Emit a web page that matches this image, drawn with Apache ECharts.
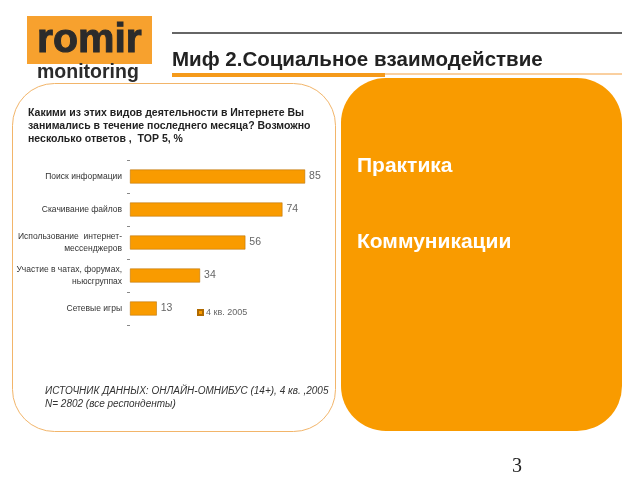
<!DOCTYPE html>
<html>
<head>
<meta charset="utf-8">
<script src="https://cdn.jsdelivr.net/npm/echarts@6/dist/echarts.min.js"></script>
<style>html,body{margin:0;padding:0;background:#fff}#c{width:640px;height:480px}</style>
</head>
<body>
<div id="c"></div>
<script>
var categories = ['Поиск информации', 'Скачивание файлов', 'Использование  интернет-\nмессенджеров', 'Участие в чатах, форумах,\nньюсгруппах', 'Сетевые игры'];
var values = [85, 74, 56, 34, 13];
var seriesName = '4 кв. 2005';
var titleText = 'Миф 2.Социальное взаимодействие';
var questionLines = ['Какими из этих видов деятельности в Интернете Вы', 'занимались в течение последнего месяца? Возможно', 'несколько ответов ,  TOP 5, %'];
var sourceLines = ['ИСТОЧНИК ДАННЫХ: ОНЛАЙН-ОМНИБУС (14+), 4 кв. ,2005', 'N= 2802 (все респонденты)'];
var orange = '#F99B00';
var font = 'Liberation Sans, Arial, sans-serif';

var chart = echarts.init(document.getElementById('c'), null, {renderer: 'canvas'});
var graphics = [
  // logo
  {type: 'rect', shape: {x: 27, y: 16, width: 125, height: 48}, style: {fill: '#F7A12E'}, z: 1},
  {type: 'text', style: {x: 37, y: 41, text: 'romir', font: 'bold 41px ' + font, fill: '#2b2b2b', textVerticalAlign: 'middle', stroke: '#2b2b2b', lineWidth: 1}, z: 2},
  {type: 'text', style: {x: 37, y: 73, text: 'monitoring', font: 'bold 19.5px ' + font, fill: '#2b2b2b', textVerticalAlign: 'middle'}, z: 2},
  // title lines
  {type: 'line', shape: {x1: 172, y1: 33, x2: 622, y2: 33}, style: {stroke: '#333', lineWidth: 1.5}, z: 1},
  {type: 'text', style: {x: 172, y: 60, text: titleText, font: 'bold 20.5px ' + font, fill: '#222', textVerticalAlign: 'middle'}, z: 2},
  {type: 'line', shape: {x1: 172, y1: 74, x2: 622, y2: 74}, style: {stroke: '#F5A040', lineWidth: 1}, z: 1},
  {type: 'rect', shape: {x: 172, y: 73, width: 213, height: 4}, style: {fill: '#F59A1A'}, z: 1},
  // left box
  {type: 'rect', shape: {x: 12.5, y: 83.5, width: 323, height: 348, r: 42}, style: {fill: 'none', stroke: '#F2B56A', lineWidth: 1}, z: 1},
  // right box
  {type: 'rect', shape: {x: 341, y: 78, width: 281, height: 353, r: 45}, style: {fill: orange}, z: 1},
  {type: 'text', style: {x: 357, y: 166, text: 'Практика', font: 'bold 21px ' + font, fill: '#fff', textVerticalAlign: 'middle'}, z: 2},
  {type: 'text', style: {x: 357, y: 242, text: 'Коммуникации', font: 'bold 21px ' + font, fill: '#fff', textVerticalAlign: 'middle'}, z: 2},
  // page number
  {type: 'text', style: {x: 512, y: 467, text: '3', font: '20px Liberation Serif, serif', fill: '#222', textVerticalAlign: 'middle'}, z: 2}
];
questionLines.forEach(function (t, i) {
  graphics.push({type: 'text', style: {x: 28, y: 113 + i * 13, text: t, font: 'bold 10.5px ' + font, fill: '#222', textVerticalAlign: 'middle'}, z: 2});
});
sourceLines.forEach(function (t, i) {
  graphics.push({type: 'text', style: {x: 45, y: 391 + i * 13, text: t, font: 'italic 10px ' + font, fill: '#333', textVerticalAlign: 'middle'}, z: 3});
});

chart.setOption({
  animation: false,
  backgroundColor: '#fff',
  graphic: graphics,
  grid: {left: 130, right: 304, top: 160, height: 165, containLabel: false},
  legend: {
    left: 192, top: 303, itemWidth: 5, itemHeight: 5, itemGap: 3,
    data: [seriesName],
    textStyle: {fontSize: 9, color: '#666', fontFamily: font, padding: [0, 0, 0, -2]},
    icon: 'rect'
  },
  xAxis: {type: 'value', min: 0, max: 100, show: false},
  yAxis: {
    type: 'category', inverse: true, data: categories,
    axisLine: {show: false},
    axisTick: {show: true, length: 3, lineStyle: {color: '#888'}},
    axisLabel: {fontSize: 8.5, color: '#333', fontFamily: font, margin: 8, lineHeight: 12}
  },
  series: [{
    name: seriesName, type: 'bar', data: values, barWidth: 14,
    itemStyle: {color: orange, borderColor: '#B06A00', borderWidth: 0.5},
    label: {show: true, position: 'right', distance: 4, fontSize: 10.5, color: '#666', fontFamily: font}
  }]
});
</script>
</body>
</html>
